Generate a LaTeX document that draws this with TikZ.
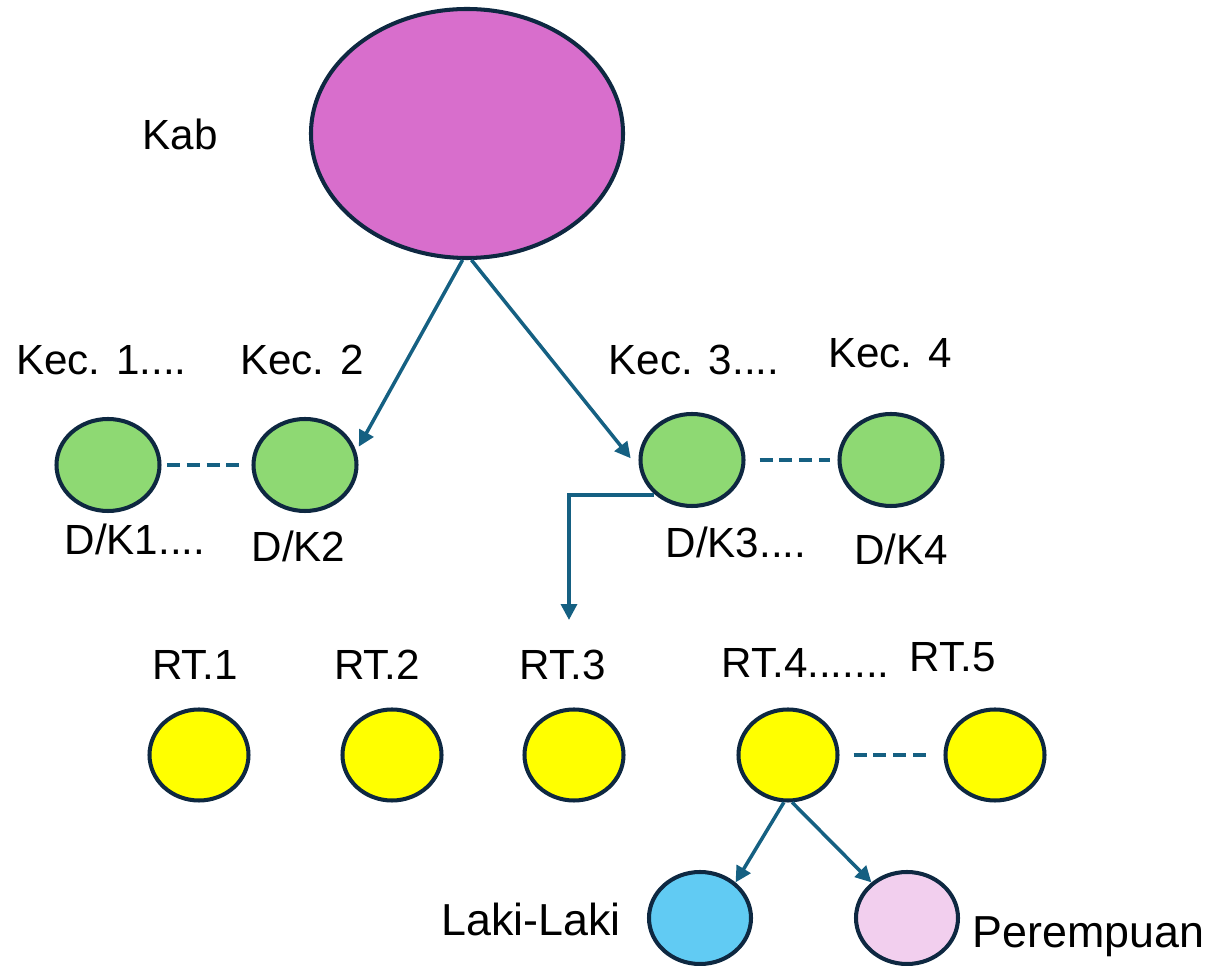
\documentclass[tikz,border=0pt]{standalone}
\usepackage{fontspec}
\setmainfont{Liberation Sans}
\usetikzlibrary{arrows.meta,shapes.geometric}
\definecolor{kabfill}{RGB}{216,110,204}
\definecolor{kecfill}{RGB}{142,217,115}
\definecolor{rtfill}{RGB}{255,255,0}
\definecolor{lakifill}{RGB}{97,203,243}
\definecolor{prfill}{RGB}{242,207,238}
\definecolor{edge}{RGB}{14,40,65}
\definecolor{link}{RGB}{21,96,130}

\begin{document}
\begin{tikzpicture}[scale=0.2]
\tikzstyle{every node}+=[inner sep=0pt]
\tikzstyle{unit}=[ellipse, draw=edge, line width=2.3pt]
\tikzstyle{kec}=[unit, fill=kecfill, minimum width=2.06cm, minimum height=1.84cm]
\tikzstyle{rt}=[unit, fill=rtfill, minimum width=1.98cm, minimum height=1.82cm]
\tikzstyle{jk}=[unit, minimum width=2.04cm, minimum height=1.84cm]
\tikzstyle{lbl}=[anchor=base, font=\fontsize{24}{28}\selectfont]
\tikzstyle{link}=[draw=link, line width=2pt, -{Triangle[length=9pt,width=9pt]}]
\tikzstyle{gap}=[draw=link, line width=2.1pt, dash pattern=on 7.4pt off 3.9pt]
\useasboundingbox (0,0) rectangle (121.2,-96.6);
\node [unit, fill=kabfill, minimum width=6.24cm, minimum height=4.98cm] (kab) at (46.7,-13.35) {};
\node [lbl] (kablbl) at (18,-15) {Kab};
\node [kec] (d1) at (10.8,-46.5) {};
\node [kec] (d2) at (30.5,-46.5) {};
\node [kec] (d3) at (69.2,-46) {};
\node [kec] (d4) at (89.1,-46) {};
\node [lbl] (kec1lbl) at (10.15,-37.5) {Kec. 1....};
\node [lbl] (kec2lbl) at (30.2,-37.5) {Kec. 2};
\node [lbl] (kec3lbl) at (69.4,-37.5) {Kec. 3....};
\node [lbl] (kec4lbl) at (89,-36.8) {Kec. 4};
\node [lbl] (dk1lbl) at (13.5,-55.5) {D/K1....};
\node [lbl] (dk2lbl) at (29.85,-56.2) {D/K2};
\node [lbl] (dk3lbl) at (73.6,-55.8) {D/K3....};
\node [lbl] (dk4lbl) at (90.1,-56.5) {D/K4};
\node [rt] (rt1) at (19.9,-75.5) {};
\node [rt] (rt2) at (39.2,-75.5) {};
\node [rt] (rt3) at (57.4,-75.5) {};
\node [rt] (rt4) at (78.8,-75.5) {};
\node [rt] (rt5) at (99.5,-75.5) {};
\node [lbl] (rt1lbl) at (19.5,-68) {RT.1};
\node [lbl] (rt2lbl) at (37.7,-68) {RT.2};
\node [lbl] (rt3lbl) at (56.25,-68) {RT.3};
\node [lbl] (rt4lbl) at (80.55,-67.8) {RT.4.......};
\node [lbl] (rt5lbl) at (95.25,-67.2) {RT.5};
\node [jk, fill=lakifill] (laki) at (70,-91.8) {};
\node [jk, fill=prfill] (pr) at (90.7,-91.8) {};
\node [lbl, font=\fontsize{25.5}{30}\selectfont] (lakilbl) at (53.1,-93.6) {Laki-Laki};
\node [lbl, font=\fontsize{25.5}{30}\selectfont] (prlbl) at (108.85,-94.8) {Perempuan};
\coordinate (e3) at (56.9,-62);
\draw [link, shorten >=3pt] (kab.268) -- (d2.15);
\draw [link, shorten >=8pt] (kab.272) -- (d3.190);
\draw [link] ([yshift=-3pt]d3.south west) -| (e3);
\draw [link] (rt4.265) -- (laki.45);
\draw [link] (rt4.275) -- (pr.135);
\draw [gap, shorten <=3pt, shorten >=6pt] (d1.east) -- (d2.west);
\draw [gap, shorten <=8pt, shorten >=4pt] (d3.east) -- (d4.west);
\draw [gap, shorten <=8pt, shorten >=10pt] (rt4.east) -- (rt5.west);
\end{tikzpicture}
\end{document}
